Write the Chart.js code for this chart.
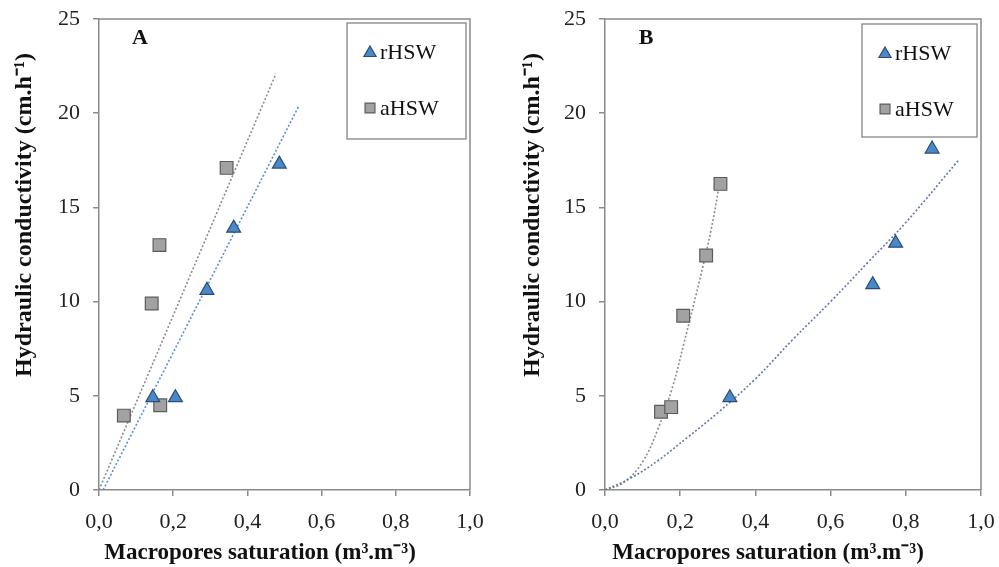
<!DOCTYPE html>
<html>
<head>
<meta charset="utf-8">
<script src="https://cdn.jsdelivr.net/npm/chart.js"></script>
<style>
  body { margin: 0; background: #fff; }
  #wrap { display: flex; width: 999px; height: 567px; }
  .panel { position: relative; height: 567px; }
</style>
</head>
<body>
<div id="wrap">
  <div class="panel" style="width:500px"><canvas id="chart_a"></canvas></div>
  <div class="panel" style="width:499px"><canvas id="chart_b"></canvas></div>
</div>
<script>
// ---- data ----
// panel A
const a_rHSW_x = [0.145, 0.206, 0.291, 0.363, 0.486];
const a_rHSW_y = [4.9, 4.9, 10.6, 13.9, 17.3];
const a_aHSW_x = [0.067, 0.142, 0.163, 0.165, 0.344];
const a_aHSW_y = [3.95, 9.9, 13.0, 4.5, 17.1];
const a_rTrend_x = [0.011, 0.539];
const a_rTrend_y = [0, 20.4];
const a_aTrend_x = [0, 0.477];
const a_aTrend_y = [0, 22.1];
// panel B
const b_rHSW_x = [0.332, 0.712, 0.773, 0.870];
const b_rHSW_y = [4.9, 10.9, 13.1, 18.1];
const b_aHSW_x = [0.149, 0.176, 0.208, 0.269, 0.307];
const b_aHSW_y = [4.15, 4.4, 9.25, 12.45, 16.25];
const b_rTrend_x = [0, 0.07, 0.14, 0.22, 0.30, 0.40, 0.50, 0.60, 0.70, 0.80, 0.94];
const b_rTrend_y = [0, 0.65, 1.55, 2.8, 4.1, 5.9, 8.0, 10.0, 12.1, 14.2, 17.5];
const b_aTrend_x = [0, 0.05, 0.10, 0.14, 0.18, 0.21, 0.25, 0.28, 0.305];
const b_aTrend_y = [0, 0.4, 1.5, 3.2, 5.5, 7.8, 11.0, 13.6, 16.3];

const seriesNames = ['rHSW', 'aHSW'];
const xTicks = [0, 0.2, 0.4, 0.6, 0.8, 1.0];
const yTicks = [0, 5, 10, 15, 20, 25];
const xTitle = 'Macropores saturation (m\u00B3.m\u207B\u00B3)';
const yTitle = 'Hydraulic conductivity (cm.h\u207B\u00B9)';

const SERIF = '"Liberation Serif", "Times New Roman", serif';
const AXIS = '#8a8a8a';
const TRI_FILL = '#4a89c9', TRI_EDGE = '#2c4d73';
const SQ_FILL = '#a2a2a2', SQ_EDGE = '#5c5c5c';

function pts(xs, ys) {
  return xs.map((x, i) => ({ x: x, y: ys[i] }));
}

// frame, panel letter, axis titles and boxed legend
const extras = {
  id: 'extras',
  afterDraw(chart, args, opts) {
    const ctx = chart.ctx;
    const a = chart.chartArea;
    ctx.save();
    ctx.strokeStyle = AXIS;
    ctx.lineWidth = 1.5;
    ctx.beginPath();
    ctx.moveTo(a.left, a.top);
    ctx.lineTo(a.right, a.top);
    ctx.lineTo(a.right, a.bottom);
    ctx.stroke();

    ctx.fillStyle = '#111';
    ctx.font = 'bold 22px ' + SERIF;
    ctx.textAlign = 'center';
    ctx.textBaseline = 'middle';
    ctx.fillText(opts.letter, opts.letterX, 38);

    // axis titles
    ctx.font = 'bold 23px ' + SERIF;
    ctx.fillText(xTitle, opts.xTitleX, 553);
    ctx.save();
    ctx.translate(opts.yTitleX, 215);
    ctx.rotate(-Math.PI / 2);
    ctx.font = 'bold 24px ' + SERIF;
    ctx.fillText(yTitle, 0, 0);
    ctx.restore();

    // legend
    const lg = opts.legend;
    ctx.strokeStyle = '#7a7a7a';
    ctx.lineWidth = 1.2;
    ctx.strokeRect(lg.x, lg.y, lg.w, lg.h);
    ctx.font = '22px ' + SERIF;
    ctx.textAlign = 'left';
    [0, 1].forEach(i => {
      const ds = chart.data.datasets[i];
      const cy = lg.y + (i === 0 ? 29 : 85);
      ctx.fillStyle = ds.backgroundColor;
      ctx.strokeStyle = ds.borderColor;
      Chart.helpers.drawPoint(ctx, {
        pointStyle: ds.pointStyle, radius: 7, borderWidth: 1, rotation: 0
      }, lg.x + 23, cy + (i === 0 ? 1 : 0));
      ctx.fillStyle = '#111';
      ctx.fillText(ds.label, lg.x + 33, cy + 1);
    });
    ctx.restore();
  }
};

function makeChart(id, d, layout) {
  return new Chart(id, {
    type: 'scatter',
    data: {
      datasets: [
        {
          label: seriesNames[0],
          data: pts(d.rx, d.ry),
          pointStyle: 'triangle',
          pointRadius: 8,
          pointBorderWidth: 1.2,
          backgroundColor: TRI_FILL,
          borderColor: TRI_EDGE
        },
        {
          label: seriesNames[1],
          data: pts(d.ax, d.ay),
          pointStyle: 'rect',
          pointRadius: 9,
          pointBorderWidth: 1.2,
          backgroundColor: SQ_FILL,
          borderColor: SQ_EDGE
        },
        {
          label: 'rHSW trend',
          type: 'line',
          data: pts(d.rtx, d.rty),
          borderColor: d.rTrendColor,
          borderWidth: 1.6,
          borderDash: [2, 2],
          pointRadius: 0,
          tension: 0.4,
          fill: false
        },
        {
          label: 'aHSW trend',
          type: 'line',
          data: pts(d.atx, d.aty),
          borderColor: '#8c8c8c',
          borderWidth: 1.6,
          borderDash: [2, 2],
          pointRadius: 0,
          tension: 0.4,
          fill: false
        }
      ]
    },
    options: {
      responsive: true,
      maintainAspectRatio: false,
      animation: false,
      layout: { padding: { top: 12, right: layout.right, left: 0, bottom: 0 } },
      plugins: {
        legend: { display: false },
        tooltip: { enabled: false },
        extras: layout.extras
      },
      scales: {
        x: {
          type: 'linear',
          min: 0, max: 1,
          afterBuildTicks: s => { s.ticks = xTicks.map(v => ({ value: v })); },
          afterFit: s => { s.height = 77; },
          border: { display: true, color: AXIS, width: 1.5 },
          grid: { drawOnChartArea: false, drawTicks: true, tickLength: 6, color: AXIS, lineWidth: 1.5 },
          ticks: {
            padding: 4,
            color: '#222',
            font: { family: SERIF, size: 22, lineHeight: 2.02 },
            maxRotation: 0,
            callback: v => v.toFixed(1).replace('.', ',')
          }
        },
        y: {
          type: 'linear',
          min: 0, max: 25,
          afterBuildTicks: s => { s.ticks = yTicks.map(v => ({ value: v })); },
          afterFit: s => { s.width = layout.yWidth; },
          border: { display: true, color: AXIS, width: 1.5 },
          grid: { drawOnChartArea: false, drawTicks: true, tickLength: 6, color: AXIS, lineWidth: 1.5 },
          ticks: {
            padding: 13,
            color: '#222',
            font: { family: SERIF, size: 22, lineHeight: 0.55 }
          }
        }
      }
    },
    plugins: [extras]
  });
}

makeChart('chart_a', {
  rx: a_rHSW_x, ry: a_rHSW_y, ax: a_aHSW_x, ay: a_aHSW_y,
  rtx: a_rTrend_x, rty: a_rTrend_y, atx: a_aTrend_x, aty: a_aTrend_y,
  rTrendColor: '#5a8fd4'
}, {
  right: 30, yWidth: 99,
  extras: { letter: 'A', letterX: 140, xTitleX: 260, yTitleX: 25, legend: { x: 347, y: 23, w: 119, h: 116 } }
});

makeChart('chart_b', {
  rx: b_rHSW_x, ry: b_rHSW_y, ax: b_aHSW_x, ay: b_aHSW_y,
  rtx: b_rTrend_x, rty: b_rTrend_y, atx: b_aTrend_x, aty: b_aTrend_y,
  rTrendColor: '#6577a8'
}, {
  right: 18, yWidth: 105,
  extras: { letter: 'B', letterX: 146, xTitleX: 268, yTitleX: 33, legend: { x: 362, y: 24, w: 115, h: 113 } }
});
</script>
</body>
</html>
